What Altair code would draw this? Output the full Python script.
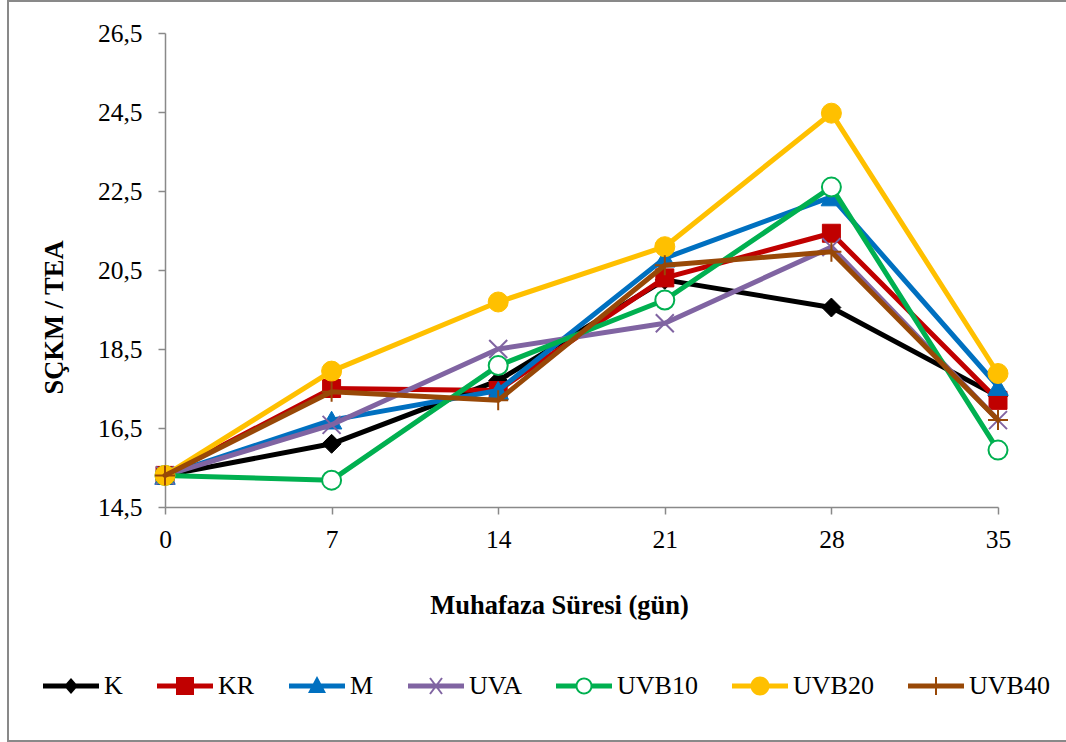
import math
import pandas as pd
import altair as alt

# ---- data -------------------------------------------------------------
days = [0, 7, 14, 21, 28, 35]
series_names = ["K", "KR", "M", "UVA", "UVB10", "UVB20", "UVB40"]
K = [15.3, 16.1, 17.7, 20.25, 19.55, 17.3]
KR = [15.3, 17.5, 17.45, 20.3, 21.43, 17.2]
M = [15.3, 16.7, 17.45, 20.8, 22.35, 17.55]
UVA = [15.3, 16.58, 18.5, 19.15, 21.08, 16.7]
UVB10 = [15.3, 15.18, 18.08, 19.74, 22.6, 15.94]
UVB20 = [15.3, 17.94, 19.69, 21.09, 24.47, 17.88]
UVB40 = [15.3, 17.42, 17.2, 20.62, 20.96, 16.7]
y_ticks = [14.5, 16.5, 18.5, 20.5, 22.5, 24.5, 26.5]

values = {"K": K, "KR": KR, "M": M, "UVA": UVA, "UVB10": UVB10, "UVB20": UVB20, "UVB40": UVB40}
rows = []
for s in series_names:
    for d, v in zip(days, values[s]):
        rows.append({"series": s, "day": d, "value": v})
df = pd.DataFrame(rows)

# ---- styles -----------------------------------------------------------
colors = {
    "K": "#000000", "KR": "#C00000", "M": "#0070C0", "UVA": "#8064A2",
    "UVB10": "#00B050", "UVB20": "#FFC000", "UVB40": "#984807",
}
X_PATH = "M-1,-1L1,1M-1,1L1,-1"
PLUS_PATH = "M-1,0L1,0M0,-1L0,1"
markers = {
    "K": dict(shape="diamond", size=360, filled=True, fill=colors["K"], stroke=colors["K"], strokeWidth=1),
    "KR": dict(shape="square", size=324, filled=True, fill=colors["KR"], stroke=colors["KR"], strokeWidth=1),
    "M": dict(shape="triangle-up", size=420, filled=True, fill=colors["M"], stroke=colors["M"], strokeWidth=1),
    "UVA": dict(shape=X_PATH, size=324, filled=False, stroke=colors["UVA"], strokeWidth=2),
    "UVB10": dict(shape="circle", size=361, filled=True, fill="white", stroke=colors["UVB10"], strokeWidth=2),
    "UVB20": dict(shape="circle", size=400, filled=True, fill=colors["UVB20"], stroke=colors["UVB20"], strokeWidth=1),
    "UVB40": dict(shape=PLUS_PATH, size=400, filled=False, stroke=colors["UVB40"], strokeWidth=2),
}

# legend symbols: line + marker, drawn as filled paths in unit coords
U = 28.0  # px per unit (symbol width 56px)
LEG_SIZE = int((2 * U) ** 2)


def _f(v):
    return f"{v / U:.4f}"


def poly(pts):
    a = 0.0
    for i in range(len(pts)):
        x1, y1 = pts[i]
        x2, y2 = pts[(i + 1) % len(pts)]
        a += x1 * y2 - x2 * y1
    if a < 0:
        pts = pts[::-1]
    return "M" + "L".join(f"{_f(x)},{_f(y)}" for x, y in pts) + "Z"


def rect(x1, y1, x2, y2):
    return poly([(x1, y1), (x2, y1), (x2, y2), (x1, y2)])


def seg(x1, y1, x2, y2, t):
    dx, dy = x2 - x1, y2 - y1
    L = math.hypot(dx, dy)
    nx, ny = -dy / L * t / 2, dx / L * t / 2
    return poly([(x1 + nx, y1 + ny), (x2 + nx, y2 + ny), (x2 - nx, y2 - ny), (x1 - nx, y1 - ny)])


def circ(r, n=36, hole=False):
    pts = [(r * math.cos(2 * math.pi * i / n), r * math.sin(2 * math.pi * i / n)) for i in range(n)]
    p = poly(pts)
    if hole:
        body = p[1:-1].split("L")[::-1]
        p = "M" + "L".join(body) + "Z"
    return p


line_full = rect(-U, -2.5, U, 2.5)
legend_paths = [
    line_full + poly([(0, -8), (7, 0), (0, 8), (-7, 0)]),
    line_full + rect(-9, -9, 9, 9),
    line_full + poly([(0, -10), (9, 7), (-9, 7)]),
    line_full + seg(-6, -8, 6, 8, 2) + seg(-6, 8, 6, -8, 2),
    rect(-U, -2.5, -8, 2.5) + rect(8, -2.5, U, 2.5) + circ(8.5) + circ(6.5, hole=True),
    line_full + circ(9.5),
    line_full + seg(0, -9, 0, 9, 2),
]

FONT = "Liberation Serif"
AXIS_GRAY = "#898989"

x_enc = alt.X(
    "day:Q",
    scale=alt.Scale(domain=[0, 35], nice=False, zero=False),
    axis=alt.Axis(
        values=days, title="Muhafaza Süresi (gün)", titleX=394, titleY=106,
        titleAlign="center", titleBaseline="alphabetic", tickSize=7, labelPadding=13,
        labelFlush=False, labelOverlap=False, format="d",
    ),
)
y_enc = alt.Y(
    "value:Q",
    scale=alt.Scale(domain=[14.5, 26.5], nice=False, zero=False),
    axis=alt.Axis(
        values=y_ticks, title="SÇKM / TEA", titleX=-111, titleY=284,
        titleAlign="center", titleBaseline="middle", tickSize=7, labelPadding=16,
        labelExpr="replace(format(datum.value, '.1f'), '.', ',')", labelOverlap=False,
    ),
)

base = alt.Chart(df)

frame = alt.Chart(alt.Data(values=[{"a": 1}])).mark_rect(
    filled=False, stroke=AXIS_GRAY, strokeWidth=2, fillOpacity=0
).encode(
    x=alt.value(-157), x2=alt.value(910), y=alt.value(-32), y2=alt.value(708)
)

layers = [frame]
for s in series_names:
    sub = base.transform_filter(alt.datum.series == s)
    layers.append(
        sub.mark_line(color=colors[s], strokeWidth=5, strokeJoin="round", strokeCap="round")
        .encode(x=x_enc, y=y_enc)
    )
    layers.append(sub.mark_point(opacity=1, **markers[s]).encode(x=x_enc, y=y_enc))

legend = alt.Legend(
    orient="none", legendX=-122, legendY=625, direction="horizontal", columns=7,
    title=None, labelFont=FONT, labelFontSize=26, labelColor="black",
    symbolSize=LEG_SIZE, symbolOpacity=1, symbolStrokeWidth=0,
    labelOffset=5, columnPadding=34, padding=0, labelBaseline="middle",
)
legend_layer = base.mark_point(filled=True, opacity=0).encode(
    x=x_enc, y=y_enc,
    fill=alt.Fill("series:N", scale=alt.Scale(domain=series_names, range=[colors[s] for s in series_names]), legend=legend),
    shape=alt.Shape("series:N", scale=alt.Scale(domain=series_names, range=legend_paths), legend=legend),
)
layers.append(legend_layer)

chart = (
    alt.layer(*layers)
    .properties(
        width=833, height=474,
        padding={"left": 165, "top": 33, "right": 68, "bottom": 235},
        autosize=alt.AutoSizeParams(type="none"),
        background="white",
    )
    .configure_view(stroke=None)
    .configure_axis(
        grid=False, domainColor=AXIS_GRAY, tickColor=AXIS_GRAY, domainWidth=1.5, tickWidth=1.5,
        labelFont=FONT, labelFontSize=25.5, labelColor="black",
        titleFont=FONT, titleFontSize=26.5, titleFontWeight="bold", titleColor="black",
    )
)

chart.save("out.html", embed_options={"renderer": "svg", "actions": False})
